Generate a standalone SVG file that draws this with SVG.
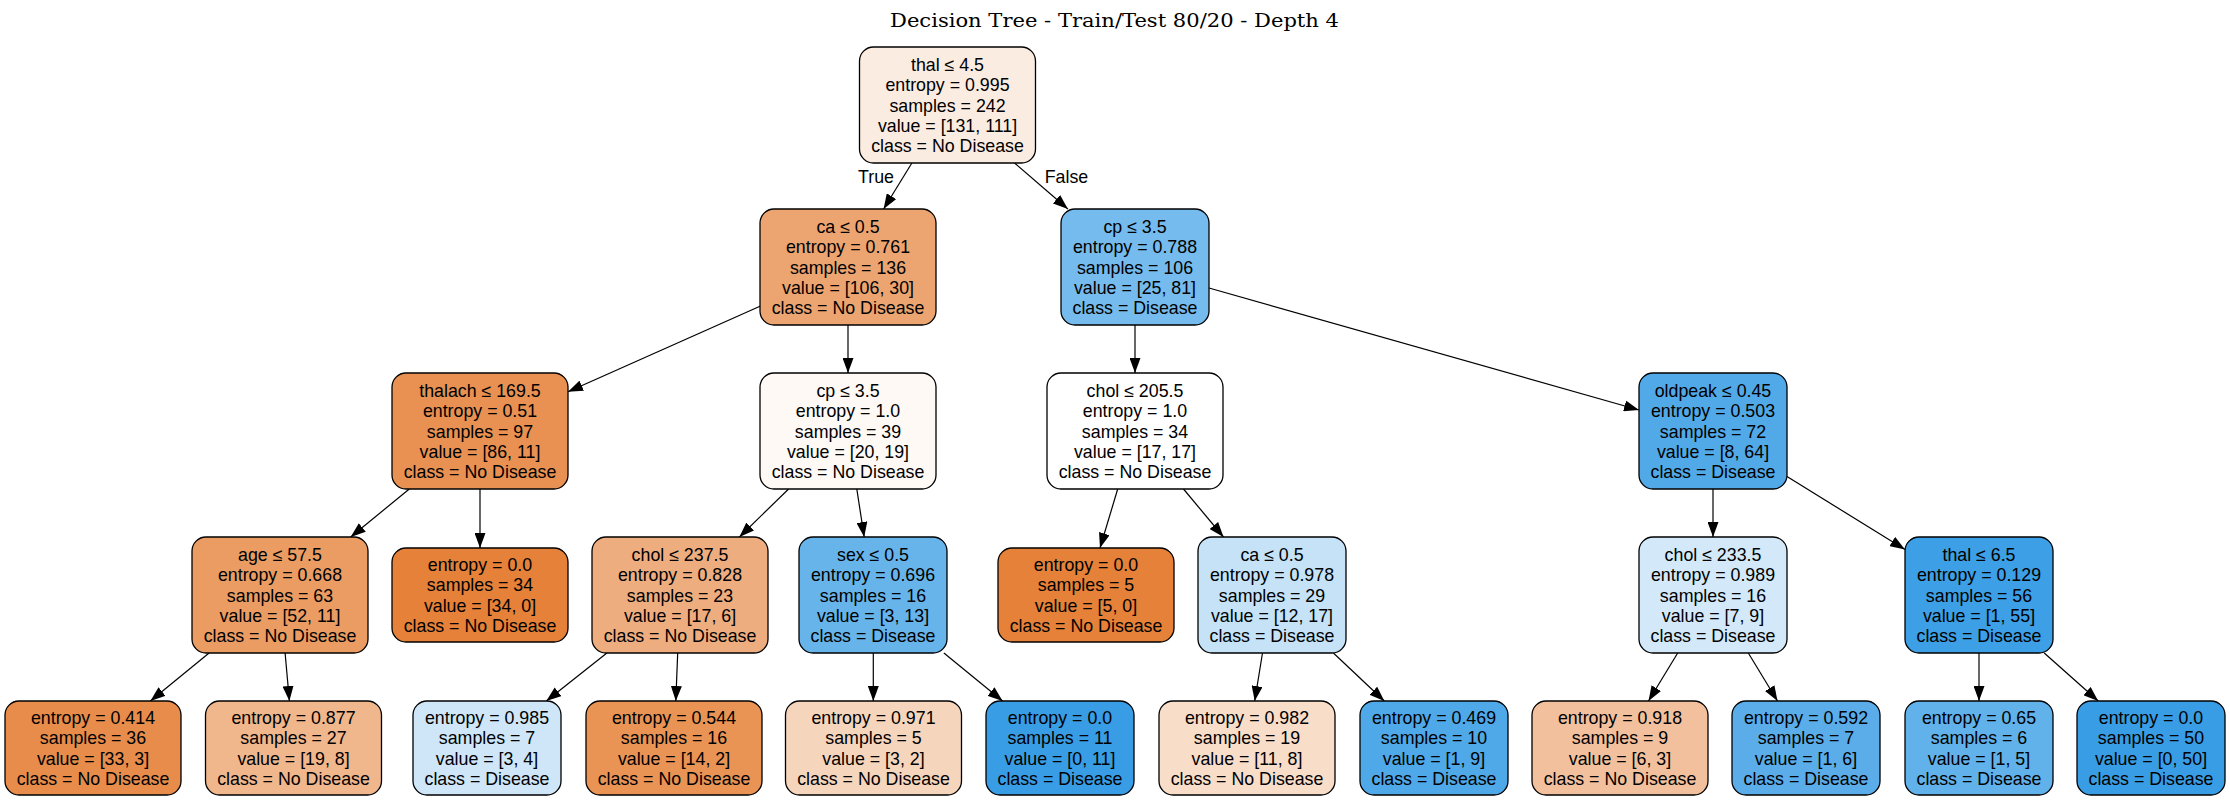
<svg xmlns="http://www.w3.org/2000/svg" width="2230" height="801" viewBox="0 0 2230 801">
<defs>
<style>
.n rect{stroke:#000;stroke-width:1.3}
.n text{font-family:"Liberation Sans",Arial,Helvetica,sans-serif;font-size:17.8px;text-anchor:middle;fill:#000}
.e line{stroke:#000;stroke-width:1.2;marker-end:url(#ah)}
.lbl{font-family:"Liberation Sans",Arial,Helvetica,sans-serif;font-size:17.8px;text-anchor:middle;fill:#000}
.title{font-family:"DejaVu Serif","Liberation Serif",serif;font-size:19px;text-anchor:middle;fill:#000}
</style>
<marker id="ah" viewBox="0 0 15 11" refX="15" refY="5.5" markerWidth="15" markerHeight="11" markerUnits="userSpaceOnUse" orient="auto">
<path d="M0,0 L15,5.5 L0,11 z" fill="#000"/>
</marker>
</defs>
<rect width="2230" height="801" fill="#fff"/>
<text class="title" x="1114.5" y="26.7" textLength="449" lengthAdjust="spacingAndGlyphs">Decision Tree - Train/Test 80/20 - Depth 4</text>

<g id="edges" class="e">
<line x1="911.9" y1="163" x2="883.6" y2="209"/>
<line x1="1014.6" y1="163" x2="1067.9" y2="209"/>
<line x1="760" y1="306.2" x2="568" y2="391.8"/>
<line x1="848" y1="325" x2="848" y2="373"/>
<line x1="409.3" y1="489" x2="350.7" y2="537"/>
<line x1="480" y1="489" x2="480" y2="548"/>
<line x1="209.1" y1="653" x2="150.4" y2="701"/>
<line x1="285.1" y1="653" x2="289.4" y2="701"/>
<line x1="788.6" y1="489" x2="739.4" y2="537"/>
<line x1="856.8" y1="489" x2="864.2" y2="537"/>
<line x1="606.9" y1="653" x2="546.3" y2="701"/>
<line x1="677.7" y1="653" x2="675.8" y2="701"/>
<line x1="873.3" y1="653" x2="873.3" y2="701"/>
<line x1="943.9" y1="653" x2="1002.6" y2="701"/>
<line x1="1135" y1="325" x2="1135" y2="373"/>
<line x1="1209" y1="288" x2="1639" y2="410"/>
<line x1="1117.7" y1="489" x2="1100" y2="548"/>
<line x1="1183.5" y1="489" x2="1223.5" y2="537"/>
<line x1="1262.5" y1="653" x2="1254.7" y2="701"/>
<line x1="1333.4" y1="653" x2="1384.3" y2="701"/>
<line x1="1713" y1="489" x2="1713" y2="537"/>
<line x1="1787" y1="476.6" x2="1905" y2="549.4"/>
<line x1="1677.7" y1="653" x2="1648.5" y2="701"/>
<line x1="1748.3" y1="653" x2="1777.5" y2="701"/>
<line x1="1979" y1="653" x2="1979" y2="701"/>
<line x1="2044.2" y1="653" x2="2098.2" y2="701"/>
<text class="lbl" x="876" y="183.3">True</text>
<text class="lbl" x="1066.5" y="183.3">False</text>
</g>

<g id="n0" class="n"><rect x="859.5" y="47" width="176" height="116" rx="14" fill="#fbece1"/>
<text y="70.7"><tspan x="947.5">thal ≤ 4.5</tspan><tspan x="947.5" dy="20.4">entropy = 0.995</tspan><tspan x="947.5" dy="20.4">samples = 242</tspan><tspan x="947.5" dy="20.4">value = [131, 111]</tspan><tspan x="947.5" dy="20.4">class = No Disease</tspan></text></g>

<g id="n1" class="n"><rect x="760" y="209" width="176" height="116" rx="14" fill="#eca571"/>
<text y="232.7"><tspan x="848">ca ≤ 0.5</tspan><tspan x="848" dy="20.4">entropy = 0.761</tspan><tspan x="848" dy="20.4">samples = 136</tspan><tspan x="848" dy="20.4">value = [106, 30]</tspan><tspan x="848" dy="20.4">class = No Disease</tspan></text></g>

<g id="n2" class="n"><rect x="392" y="373" width="176" height="116" rx="14" fill="#e89152"/>
<text y="396.7"><tspan x="480">thalach ≤ 169.5</tspan><tspan x="480" dy="20.4">entropy = 0.51</tspan><tspan x="480" dy="20.4">samples = 97</tspan><tspan x="480" dy="20.4">value = [86, 11]</tspan><tspan x="480" dy="20.4">class = No Disease</tspan></text></g>

<g id="n3" class="n"><rect x="192" y="537" width="176" height="116" rx="14" fill="#ea9c63"/>
<text y="560.7"><tspan x="280">age ≤ 57.5</tspan><tspan x="280" dy="20.4">entropy = 0.668</tspan><tspan x="280" dy="20.4">samples = 63</tspan><tspan x="280" dy="20.4">value = [52, 11]</tspan><tspan x="280" dy="20.4">class = No Disease</tspan></text></g>

<g id="n4" class="n"><rect x="5" y="701" width="176" height="94" rx="14" fill="#e78c4b"/>
<text y="723.9"><tspan x="93">entropy = 0.414</tspan><tspan x="93" dy="20.4">samples = 36</tspan><tspan x="93" dy="20.4">value = [33, 3]</tspan><tspan x="93" dy="20.4">class = No Disease</tspan></text></g>

<g id="n5" class="n"><rect x="205.5" y="701" width="176" height="94" rx="14" fill="#f0b68c"/>
<text y="723.9"><tspan x="293.5">entropy = 0.877</tspan><tspan x="293.5" dy="20.4">samples = 27</tspan><tspan x="293.5" dy="20.4">value = [19, 8]</tspan><tspan x="293.5" dy="20.4">class = No Disease</tspan></text></g>

<g id="n6" class="n"><rect x="392" y="548" width="176" height="94" rx="14" fill="#e58139"/>
<text y="570.9"><tspan x="480">entropy = 0.0</tspan><tspan x="480" dy="20.4">samples = 34</tspan><tspan x="480" dy="20.4">value = [34, 0]</tspan><tspan x="480" dy="20.4">class = No Disease</tspan></text></g>

<g id="n7" class="n"><rect x="760" y="373" width="176" height="116" rx="14" fill="#fef9f5"/>
<text y="396.7"><tspan x="848">cp ≤ 3.5</tspan><tspan x="848" dy="20.4">entropy = 1.0</tspan><tspan x="848" dy="20.4">samples = 39</tspan><tspan x="848" dy="20.4">value = [20, 19]</tspan><tspan x="848" dy="20.4">class = No Disease</tspan></text></g>

<g id="n8" class="n"><rect x="592" y="537" width="176" height="116" rx="14" fill="#eead7f"/>
<text y="560.7"><tspan x="680">chol ≤ 237.5</tspan><tspan x="680" dy="20.4">entropy = 0.828</tspan><tspan x="680" dy="20.4">samples = 23</tspan><tspan x="680" dy="20.4">value = [17, 6]</tspan><tspan x="680" dy="20.4">class = No Disease</tspan></text></g>

<g id="n9" class="n"><rect x="413" y="701" width="148" height="94" rx="14" fill="#cee6f8"/>
<text y="723.9"><tspan x="487">entropy = 0.985</tspan><tspan x="487" dy="20.4">samples = 7</tspan><tspan x="487" dy="20.4">value = [3, 4]</tspan><tspan x="487" dy="20.4">class = Disease</tspan></text></g>

<g id="n10" class="n"><rect x="586" y="701" width="176" height="94" rx="14" fill="#e99355"/>
<text y="723.9"><tspan x="674">entropy = 0.544</tspan><tspan x="674" dy="20.4">samples = 16</tspan><tspan x="674" dy="20.4">value = [14, 2]</tspan><tspan x="674" dy="20.4">class = No Disease</tspan></text></g>

<g id="n11" class="n"><rect x="799" y="537" width="148" height="116" rx="14" fill="#67b4eb"/>
<text y="560.7"><tspan x="873">sex ≤ 0.5</tspan><tspan x="873" dy="20.4">entropy = 0.696</tspan><tspan x="873" dy="20.4">samples = 16</tspan><tspan x="873" dy="20.4">value = [3, 13]</tspan><tspan x="873" dy="20.4">class = Disease</tspan></text></g>

<g id="n12" class="n"><rect x="785.5" y="701" width="176" height="94" rx="14" fill="#f6d5bd"/>
<text y="723.9"><tspan x="873.5">entropy = 0.971</tspan><tspan x="873.5" dy="20.4">samples = 5</tspan><tspan x="873.5" dy="20.4">value = [3, 2]</tspan><tspan x="873.5" dy="20.4">class = No Disease</tspan></text></g>

<g id="n13" class="n"><rect x="986" y="701" width="148" height="94" rx="14" fill="#399de5"/>
<text y="723.9"><tspan x="1060">entropy = 0.0</tspan><tspan x="1060" dy="20.4">samples = 11</tspan><tspan x="1060" dy="20.4">value = [0, 11]</tspan><tspan x="1060" dy="20.4">class = Disease</tspan></text></g>

<g id="n14" class="n"><rect x="1061" y="209" width="148" height="116" rx="14" fill="#76bbed"/>
<text y="232.7"><tspan x="1135">cp ≤ 3.5</tspan><tspan x="1135" dy="20.4">entropy = 0.788</tspan><tspan x="1135" dy="20.4">samples = 106</tspan><tspan x="1135" dy="20.4">value = [25, 81]</tspan><tspan x="1135" dy="20.4">class = Disease</tspan></text></g>

<g id="n15" class="n"><rect x="1047" y="373" width="176" height="116" rx="14" fill="#ffffff"/>
<text y="396.7"><tspan x="1135">chol ≤ 205.5</tspan><tspan x="1135" dy="20.4">entropy = 1.0</tspan><tspan x="1135" dy="20.4">samples = 34</tspan><tspan x="1135" dy="20.4">value = [17, 17]</tspan><tspan x="1135" dy="20.4">class = No Disease</tspan></text></g>

<g id="n16" class="n"><rect x="998" y="548" width="176" height="94" rx="14" fill="#e58139"/>
<text y="570.9"><tspan x="1086">entropy = 0.0</tspan><tspan x="1086" dy="20.4">samples = 5</tspan><tspan x="1086" dy="20.4">value = [5, 0]</tspan><tspan x="1086" dy="20.4">class = No Disease</tspan></text></g>

<g id="n17" class="n"><rect x="1198" y="537" width="148" height="116" rx="14" fill="#c5e2f7"/>
<text y="560.7"><tspan x="1272">ca ≤ 0.5</tspan><tspan x="1272" dy="20.4">entropy = 0.978</tspan><tspan x="1272" dy="20.4">samples = 29</tspan><tspan x="1272" dy="20.4">value = [12, 17]</tspan><tspan x="1272" dy="20.4">class = Disease</tspan></text></g>

<g id="n18" class="n"><rect x="1159" y="701" width="176" height="94" rx="14" fill="#f8ddc9"/>
<text y="723.9"><tspan x="1247">entropy = 0.982</tspan><tspan x="1247" dy="20.4">samples = 19</tspan><tspan x="1247" dy="20.4">value = [11, 8]</tspan><tspan x="1247" dy="20.4">class = No Disease</tspan></text></g>

<g id="n19" class="n"><rect x="1360" y="701" width="148" height="94" rx="14" fill="#4fa8e8"/>
<text y="723.9"><tspan x="1434">entropy = 0.469</tspan><tspan x="1434" dy="20.4">samples = 10</tspan><tspan x="1434" dy="20.4">value = [1, 9]</tspan><tspan x="1434" dy="20.4">class = Disease</tspan></text></g>

<g id="n20" class="n"><rect x="1639" y="373" width="148" height="116" rx="14" fill="#52a9e8"/>
<text y="396.7"><tspan x="1713">oldpeak ≤ 0.45</tspan><tspan x="1713" dy="20.4">entropy = 0.503</tspan><tspan x="1713" dy="20.4">samples = 72</tspan><tspan x="1713" dy="20.4">value = [8, 64]</tspan><tspan x="1713" dy="20.4">class = Disease</tspan></text></g>

<g id="n21" class="n"><rect x="1639" y="537" width="148" height="116" rx="14" fill="#d3e9f9"/>
<text y="560.7"><tspan x="1713">chol ≤ 233.5</tspan><tspan x="1713" dy="20.4">entropy = 0.989</tspan><tspan x="1713" dy="20.4">samples = 16</tspan><tspan x="1713" dy="20.4">value = [7, 9]</tspan><tspan x="1713" dy="20.4">class = Disease</tspan></text></g>

<g id="n22" class="n"><rect x="1532" y="701" width="176" height="94" rx="14" fill="#f2c09c"/>
<text y="723.9"><tspan x="1620">entropy = 0.918</tspan><tspan x="1620" dy="20.4">samples = 9</tspan><tspan x="1620" dy="20.4">value = [6, 3]</tspan><tspan x="1620" dy="20.4">class = No Disease</tspan></text></g>

<g id="n23" class="n"><rect x="1732" y="701" width="148" height="94" rx="14" fill="#5aade9"/>
<text y="723.9"><tspan x="1806">entropy = 0.592</tspan><tspan x="1806" dy="20.4">samples = 7</tspan><tspan x="1806" dy="20.4">value = [1, 6]</tspan><tspan x="1806" dy="20.4">class = Disease</tspan></text></g>

<g id="n24" class="n"><rect x="1905" y="537" width="148" height="116" rx="14" fill="#3d9fe5"/>
<text y="560.7"><tspan x="1979">thal ≤ 6.5</tspan><tspan x="1979" dy="20.4">entropy = 0.129</tspan><tspan x="1979" dy="20.4">samples = 56</tspan><tspan x="1979" dy="20.4">value = [1, 55]</tspan><tspan x="1979" dy="20.4">class = Disease</tspan></text></g>

<g id="n25" class="n"><rect x="1905" y="701" width="148" height="94" rx="14" fill="#61b1ea"/>
<text y="723.9"><tspan x="1979">entropy = 0.65</tspan><tspan x="1979" dy="20.4">samples = 6</tspan><tspan x="1979" dy="20.4">value = [1, 5]</tspan><tspan x="1979" dy="20.4">class = Disease</tspan></text></g>

<g id="n26" class="n"><rect x="2077" y="701" width="148" height="94" rx="14" fill="#399de5"/>
<text y="723.9"><tspan x="2151">entropy = 0.0</tspan><tspan x="2151" dy="20.4">samples = 50</tspan><tspan x="2151" dy="20.4">value = [0, 50]</tspan><tspan x="2151" dy="20.4">class = Disease</tspan></text></g>
</svg>
